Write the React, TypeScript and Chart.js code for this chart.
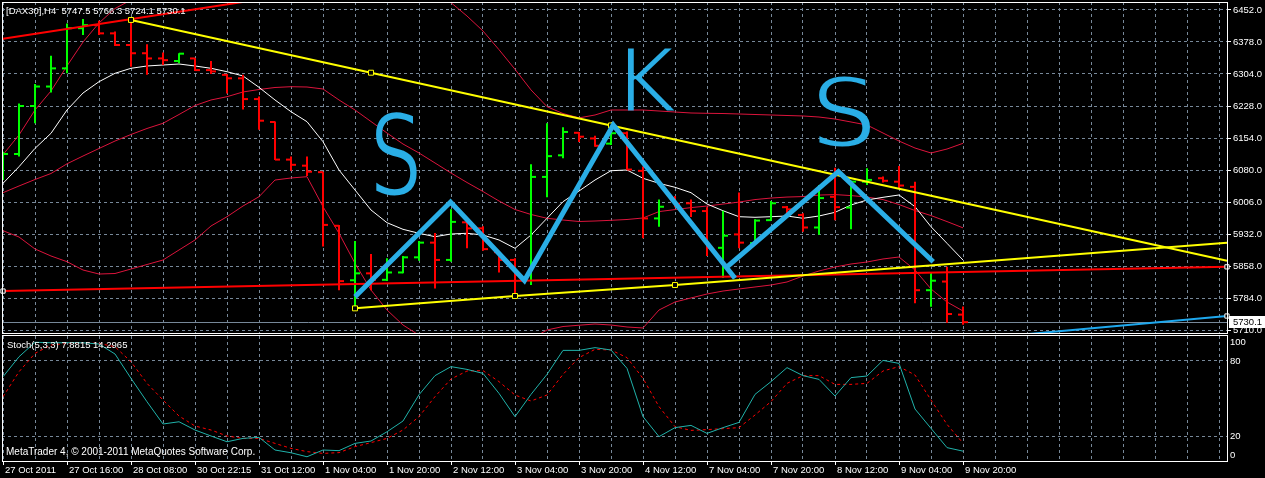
import React, { useEffect, useRef } from 'react';
import { Chart, registerables } from 'chart.js';

Chart.register(...registerables);

// ---------- data ----------
const timeLabels = ['27 Oct 2011', '27 Oct 16:00', '28 Oct 08:00', '30 Oct 22:15', '31 Oct 12:00', '1 Nov 04:00', '1 Nov 20:00', '2 Nov 12:00', '3 Nov 04:00', '3 Nov 20:00', '4 Nov 12:00', '7 Nov 04:00', '7 Nov 20:00', '8 Nov 12:00', '9 Nov 04:00', '9 Nov 20:00'];

const opens = [6082, 6119, 6230, 6275, 6317, 6410, 6417, 6398, 6371, 6352, 6340, 6334, 6340, 6313, 6302, 6294, 6246, 6193, 6106, 6092, 6077, 5953, 5827, 5843, 5828, 5845, 5880, 5914, 5874, 5961, 5947, 5892, 5874, 5840, 6066, 6116, 6168, 6155, 6143, 6167, 6080, 5970, 6012, 6005, 5987, 5902, 5933, 5913, 5966, 5996, 5978, 5949, 6020, 5995, 6055, 6063, 6055, 6043, 5804, 5824, 5747.5];
const highs = [6124, 6236, 6281, 6346, 6421, 6431, 6427, 6402, 6429, 6373, 6354, 6352, 6341, 6334, 6304, 6302, 6252, 6194, 6113, 6113, 6078, 5955, 5918, 5888, 5878, 5883, 5918, 5936, 5991, 5962, 5952, 5893, 5878, 6095, 6190, 6181, 6170, 6161, 6175, 6171, 6090, 6014, 6022, 6014, 5996, 5988, 6030, 5968, 6010, 5999, 5982, 6047, 6087, 6057, 6086, 6067, 6091, 6055, 5843, 5858, 5766.3];
const lows = [6059, 6113, 6190, 6261, 6306, 6394, 6394, 6369, 6321, 6302, 6325, 6329, 6311, 6304, 6259, 6222, 6175, 6105, 6080, 6068, 5905, 5804, 5761, 5804, 5825, 5843, 5872, 5808, 5870, 5901, 5895, 5845, 5791, 5816, 6019, 6109, 6147, 6136, 6140, 6082, 5924, 5951, 5996, 5973, 5883, 5832, 5901, 5911, 5965, 5982, 5939, 5932, 5966, 5945, 6047, 6053, 6040, 5774, 5766, 5729, 5724.1];
const closes = [6119, 6230, 6275, 6317, 6410, 6417, 6398, 6371, 6352, 6340, 6336, 6351, 6313, 6310, 6294, 6246, 6196, 6106, 6094, 6078, 5955, 5825, 5843, 5828, 5845, 5880, 5914, 5874, 5962, 5947, 5899, 5874, 5839, 6066, 6114, 6170, 6159, 6138, 6167, 6083, 5970, 5997, 6004, 5987, 5902, 5930, 5914, 5965, 6005, 5991, 5949, 6017, 5996, 6055, 6059, 6057, 6046, 5804, 5826, 5749, 5730.1];

const maLine = [6051.2, 6089.6, 6132, 6166.8, 6220.7, 6260, 6286.2, 6305.6, 6317.2, 6322.5, 6324.8, 6327.1, 6322.5, 6317.2, 6309.3, 6299.4, 6273.2, 6243.9, 6216.8, 6193.7, 6147.4, 6082, 6035.7, 5989.5, 5960.1, 5944.8, 5935.6, 5927.7, 5934, 5935.6, 5931.6, 5920.1, 5900.9, 5931.6, 5970.3, 6008.7, 6033.4, 6058.8, 6080.3, 6082, 6062.8, 6051.2, 6042, 6029.5, 6003.3, 5987.8, 5974, 5972.6, 5974, 5975.6, 5970.3, 5975.6, 5984.1, 6001, 6012.6, 6018.8, 6024.2, 5997.1, 5950.8, 5912.4, 5873.8];

const bbUpper = [6117.4, 6163, 6220.7, 6264.7, 6322.7, 6377.9, 6422, 6455.4, 6475.2, 6492.6, 6506.2, 6523.6, 6542.1, 6535.3, 6529, 6526.1, 6516, 6486.8, 6485.7, 6481.3, 6541.5, 6552.2, 6575.2, 6583.8, 6576.8, 6560.7, 6542.6, 6511.4, 6469, 6438.1, 6403.4, 6360.2, 6314.9, 6267.2, 6228.4, 6212.6, 6202.5, 6209.2, 6220.7, 6220.7, 6220.7, 6218.4, 6216.1, 6213.8, 6213.1, 6212.6, 6211.5, 6210.3, 6209.2, 6208, 6206.9, 6204.5, 6199.9, 6193, 6186, 6167.5, 6149, 6132.8, 6121.3, 6130.5, 6143.7];
const bbMiddle = [6029.5, 6045, 6060, 6073.9, 6096.3, 6114.3, 6131.7, 6149, 6164.1, 6178, 6190, 6210.3, 6231.1, 6243.9, 6251.5, 6262.4, 6268.1, 6272.8, 6274.6, 6273.9, 6269.3, 6243.9, 6220.7, 6194.1, 6167.5, 6142.1, 6121.3, 6098.2, 6075, 6053.1, 6032.2, 6010.3, 5990.6, 5979.1, 5970.3, 5966.3, 5962.9, 5964, 5965.6, 5967.5, 5971, 5985.8, 5990.4, 5995, 5998.6, 6003.2, 6007.8, 6013.6, 6017.1, 6019.4, 6020.5, 6024, 6025.1, 6022.8, 6019.4, 6013.6, 6002.1, 5988.2, 5976.6, 5962.7, 5948.2];
const bbLower = [5941.6, 5927, 5899.3, 5883.1, 5869.9, 5850.7, 5841.4, 5842.6, 5853, 5863.4, 5873.8, 5897, 5920.1, 5952.5, 5974, 5998.7, 6020.2, 6058.8, 6063.5, 6066.5, 5997.1, 5935.6, 5866.2, 5804.4, 5758.2, 5723.5, 5700, 5685, 5675, 5668, 5661, 5660, 5666, 5691, 5712, 5720, 5723, 5725.8, 5723.5, 5718.9, 5716.6, 5758.2, 5776.7, 5786, 5795.2, 5802.1, 5806.8, 5811.4, 5816, 5823, 5836.8, 5848.4, 5857.6, 5864.6, 5869.2, 5876.2, 5880.8, 5850.7, 5806.8, 5776.7, 5755.9];

const stochMain = [67.4, 83.4, 95, 94.6, 94.6, 94.6, 93.6, 85.6, 66.1, 47.4, 29.6, 31.4, 24.8, 20, 15.4, 18.1, 18.9, 8.8, 6.6, 3.4, 8.8, 8.3, 14.1, 16, 23.4, 32, 53, 68.3, 75.5, 73.3, 70.1, 54.1, 35.5, 53.3, 69.3, 88.5, 88.5, 90.7, 88.8, 74.1, 35.5, 19.5, 26.7, 28.5, 22.1, 26.7, 30.9, 53.3, 63.5, 74.7, 68.3, 65.3, 52, 66.7, 68, 80.5, 78.1, 41.6, 26.1, 10.7, 7.8815];
const stochSignal = [51.4, 71.4, 86.1, 92.8, 94.1, 94.6, 94.1, 91.4, 79.4, 62.1, 48.8, 36, 28, 24.8, 20, 18.1, 18.1, 14.1, 10.1, 7.5, 6.1, 6.7, 11.5, 14.7, 18.1, 24.8, 35.5, 51.5, 65.6, 72, 72.3, 63.5, 52.8, 48, 52.8, 69.3, 82.7, 89.3, 88.8, 82.7, 66.1, 43.5, 27.5, 24.5, 25.1, 25.9, 26.7, 36.8, 47.5, 62.1, 68.3, 68.3, 61.3, 61.3, 62.1, 72, 75.5, 68.8, 48.8, 29.3, 14.2965];

const priceTicks = [5710, 5784, 5858, 5932, 6006, 6080, 6154, 6228, 6304, 6378, 6452];
const stochTicks = [4.8, 20, 80, 95.2];
const stochTickLabels = ['0', '20', '80', '100'];

// drawn objects: [bar index, price]
const yellowUpper = [[8, 6429], [23, 6307], [38, 6185], [76.5, 5872]];
const yellowLower = [[22, 5762], [32, 5790.6], [42, 5816], [76.5, 5914]];
const redUpper = [[0, 6385.6], [20, 6499]];
const redLower = [[0, 5802], [76.5, 5858]];
const blueChannel = [[63, 5699], [76.5, 5744.3]];
const zigzag = [[22, 5789], [27.97, 6008], [32.59, 5826.4], [38.14, 6186], [45.75, 5831.5], [45.5, null], [45.27, 5858.3], [52.21, 6078], [58.14, 5869.9]];
const noteLetters = ['S', 'K', 'S'];
const noteAt = [[24.56, 6121], [40.25, 6292], [52.56, 6216]];

// ---------- style ----------
const FONT = '"Liberation Sans", Arial, sans-serif';
const FS = 9.5;
const GRID = '#778899';
const UP = '#00FF00';
const DOWN = '#FF0000';
const BAND = '#DC143C';
const INK = '#2AAEE6';
const X_MIN = -0.0625;
const X_MAX = 76.5625;
const TICK_OFF = 2.5 / 16;

const pts = (arr: (number | null)[][]) => arr.map(([x, y]) => ({ x: x as number, y: y as any }));
const series = (arr: number[]) => arr.map((v, i) => ({ x: i, y: v }));
const barColors = opens.map((o, i) => (closes[i] >= o ? UP : DOWN));

function xScale(showLabels: boolean): any {
  const labelled = (v: number) => v % 4 === 0 && v / 4 < timeLabels.length;
  return {
    type: 'linear',
    min: X_MIN,
    max: X_MAX,
    offset: false,
    afterBuildTicks: (s: any) => {
      const t: any[] = [];
      for (let v = 0; v <= 76; v += 2) t.push({ value: v });
      s.ticks = t;
    },
    afterFit: (s: any) => {
      s.height = showLabels ? 17 : 0;
      s.paddingLeft = 0;
      s.paddingRight = 0;
    },
    grid: {
      color: GRID,
      lineWidth: 1,
      offset: false,
      drawTicks: showLabels,
      tickLength: 4,
      tickWidth: 1,
      tickColor: (c: any) => (c.tick && labelled(c.tick.value) ? '#ffffff' : 'rgba(0,0,0,0)'),
    },
    border: { display: false, dash: [3, 3] },
    ticks: {
      display: showLabels,
      autoSkip: false,
      maxRotation: 0,
      minRotation: 0,
      align: 'start',
      labelOffset: 2,
      padding: 0,
      color: '#ffffff',
      font: { family: FONT, size: FS },
      callback: (v: number) => (labelled(v) ? timeLabels[v / 4] : ''),
    },
  };
}

const mainDecor = {
  id: 'mainDecor',
  beforeDatasetsDraw(chart: any) {
    const { ctx, chartArea: a, scales } = chart;
    const yb = Math.round(scales.y.getPixelForValue(closes[closes.length - 1])) + 0.5;
    ctx.save();
    ctx.strokeStyle = GRID;
    ctx.lineWidth = 1;
    ctx.beginPath();
    ctx.moveTo(a.left, yb);
    ctx.lineTo(a.right, yb);
    ctx.stroke();
    ctx.restore();
  },
  afterDatasetsDraw(chart: any) {
    const { ctx, scales, width, height } = chart;
    const look = [{ size: 114, sx: 0.73 }, { size: 89, sx: 1.0 }, { size: 96, sx: 1.1 }];
    // hand-written letters: glyphs drawn off-screen, thinned, then copied on
    const off = document.createElement('canvas');
    off.width = width;
    off.height = height;
    const o = off.getContext('2d') as CanvasRenderingContext2D;
    noteLetters.forEach((t, i) => {
      const px = scales.x.getPixelForValue(noteAt[i][0]);
      const py = scales.y.getPixelForValue(noteAt[i][1]);
      o.save();
      o.translate(px, py);
      o.scale(look[i].sx, 1);
      o.font = `${look[i].size}px "DejaVu Sans"`;
      o.textAlign = 'center';
      o.textBaseline = 'alphabetic';
      o.fillStyle = INK;
      o.fillText(t, 0, look[i].size * 0.365);
      o.globalCompositeOperation = 'destination-out';
      o.lineWidth = 3;
      o.lineJoin = 'round';
      o.strokeStyle = '#000';
      o.strokeText(t, 0, look[i].size * 0.365);
      o.restore();
    });
    ctx.drawImage(off, 0, 0);
  },
  afterDraw(chart: any) {
    const { ctx, chartArea: a, scales } = chart;
    const n = closes.length - 1;
    ctx.save();
    ctx.strokeStyle = '#ffffff';
    ctx.lineWidth = 1;
    ctx.strokeRect(a.left + 0.5, a.top + 0.5, a.right - a.left - 1, a.bottom - a.top - 1);
    ctx.font = `${FS}px ${FONT}`;
    ctx.textAlign = 'left';
    ctx.textBaseline = 'middle';
    ctx.fillStyle = '#ffffff';
    ctx.fillText(`[DAX30],H4  ${opens[n].toFixed(1)} ${highs[n].toFixed(1)} ${lows[n].toFixed(1)} ${closes[n].toFixed(1)}`, 6, 11);
    const yb = scales.y.getPixelForValue(closes[n]);
    ctx.fillRect(a.right + 1, Math.round(yb) - 6, 36, 12);
    ctx.fillStyle = '#000000';
    ctx.fillText(closes[n].toFixed(1), a.right + 5, yb);
    ctx.restore();
  },
};

const stochDecor = {
  id: 'stochDecor',
  afterDraw(chart: any) {
    const { ctx, chartArea: a } = chart;
    const n = stochMain.length - 1;
    ctx.save();
    ctx.strokeStyle = '#ffffff';
    ctx.lineWidth = 1;
    ctx.strokeRect(a.left + 0.5, a.top - 0.5, a.right - a.left - 1, a.bottom - a.top + 1);
    ctx.font = `${FS}px ${FONT}`;
    ctx.textAlign = 'left';
    ctx.textBaseline = 'middle';
    ctx.fillStyle = '#ffffff';
    ctx.fillText(`Stoch(5,3,3) ${stochMain[n].toFixed(4)} ${stochSignal[n].toFixed(4)}`, 7, 11.7);
    ctx.font = `10px ${FONT}`;
    ctx.fillText('MetaTrader 4, \u00A9 2001-2011 MetaQuotes Software Corp.', 6, 118.7);
    ctx.restore();
  },
};

const lineDs = (data: any[], color: string, width: number, order: number, extra: any = {}) => ({
  type: 'line',
  data,
  borderColor: color,
  borderWidth: width,
  pointRadius: 0,
  pointHoverRadius: 0,
  tension: 0,
  fill: false,
  spanGaps: false,
  order,
  ...extra,
});

export default function App() {
  const aRef = useRef<HTMLCanvasElement>(null);
  const bRef = useRef<HTMLCanvasElement>(null);

  useEffect(() => {
    const font = { family: FONT, size: FS };
    const anchor = (col: string, radii: number[]) => ({
      pointRadius: radii,
      pointHoverRadius: radii,
      pointStyle: 'rect',
      pointBackgroundColor: '#000000',
      pointBorderColor: col,
      pointBorderWidth: 1,
    });

    const mainChart = new Chart(aRef.current as HTMLCanvasElement, {
      type: 'line',
      data: {
        datasets: [
          lineDs(pts(zigzag), INK, 5, 0, { borderCapStyle: 'butt', borderJoinStyle: 'miter' }),
          lineDs(pts(yellowUpper), '#FFFF00', 2, 1, anchor('#FFFF00', [3.5, 3.5, 3.5, 0])),
          lineDs(pts(yellowLower), '#FFFF00', 2, 1, anchor('#FFFF00', [3.5, 3.5, 3.5, 0])),
          lineDs(pts(redUpper), '#FF0000', 2, 2),
          lineDs(pts(redLower), '#FF0000', 2, 2, { ...anchor('#ffffff', [3, 3]), clip: { left: 4, top: 0, right: 4, bottom: 0 } }),
          lineDs(pts(blueChannel), '#1EA8EE', 2, 2, { ...anchor('#ffffff', [0, 3]), clip: { left: 0, top: 0, right: 4, bottom: 0 } }),
          {
            type: 'bar',
            data: highs.map((h, i) => ({ x: i, y: [lows[i], h] })),
            backgroundColor: barColors,
            borderWidth: 0,
            barThickness: 2,
            inflateAmount: 0,
            grouped: false,
            order: 3,
          } as any,
          {
            type: 'scatter',
            data: opens.map((o, i) => ({ x: i - TICK_OFF, y: o })),
            pointStyle: 'line',
            pointRadius: 2.5,
            pointHoverRadius: 2.5,
            pointBorderWidth: 2,
            pointBorderColor: barColors,
            showLine: false,
            order: 3,
          } as any,
          {
            type: 'scatter',
            data: closes.map((c, i) => ({ x: i + TICK_OFF, y: c })),
            pointStyle: 'line',
            pointRadius: 2.5,
            pointHoverRadius: 2.5,
            pointBorderWidth: 2,
            pointBorderColor: barColors,
            showLine: false,
            order: 3,
          } as any,
          lineDs(series(maLine), '#ffffff', 1, 4),
          lineDs(series(bbUpper), BAND, 1, 5),
          lineDs(series(bbMiddle), BAND, 1, 5),
          lineDs(series(bbLower), BAND, 1, 5),
        ] as any,
      },
      options: {
        responsive: false,
        animation: false,
        devicePixelRatio: 1,
        events: [],
        layout: { padding: { left: 2, top: 2, right: 0, bottom: 2 }, autoPadding: false },
        plugins: { legend: { display: false }, tooltip: { enabled: false } },
        scales: {
          x: xScale(false),
          y: {
            type: 'linear',
            position: 'right',
            min: 5702.7,
            max: 6470.5,
            afterBuildTicks: (s: any) => {
              s.ticks = priceTicks.map((v) => ({ value: v }));
            },
            afterFit: (s: any) => {
              s.width = 37;
              s.paddingTop = 0;
              s.paddingBottom = 0;
            },
            grid: { color: GRID, lineWidth: 1, drawTicks: true, tickLength: 3, tickWidth: 1, tickColor: '#ffffff' },
            border: { display: false, dash: [3, 3] },
            ticks: { color: '#ffffff', padding: 2, font, callback: (v: number) => Number(v).toFixed(1) },
          },
        } as any,
      },
      plugins: [mainDecor],
    } as any);

    const stochChart = new Chart(bRef.current as HTMLCanvasElement, {
      type: 'line',
      data: {
        datasets: [
          lineDs(series(stochMain), '#20B2AA', 1, 0),
          lineDs(series(stochSignal), '#FF0000', 1, 1, { borderDash: [3, 3] }),
        ] as any,
      },
      options: {
        responsive: false,
        animation: false,
        devicePixelRatio: 1,
        events: [],
        layout: { padding: { left: 2, top: 2, right: 0, bottom: 0 }, autoPadding: false },
        plugins: { legend: { display: false }, tooltip: { enabled: false } },
        scales: {
          x: xScale(true),
          y: {
            type: 'linear',
            position: 'right',
            min: 0,
            max: 100,
            afterBuildTicks: (s: any) => {
              s.ticks = stochTicks.map((v) => ({ value: v }));
            },
            afterFit: (s: any) => {
              s.width = 37;
              s.paddingTop = 0;
              s.paddingBottom = 0;
            },
            grid: {
              color: (c: any) => (c.tick && (c.tick.value === 20 || c.tick.value === 80) ? GRID : 'rgba(0,0,0,0)'),
              lineWidth: 1,
              drawTicks: false,
            },
            border: { display: false, dash: [3, 3] },
            ticks: { color: '#ffffff', padding: 2, font, callback: (_v: number, i: number) => stochTickLabels[i] },
          },
        } as any,
      },
      plugins: [stochDecor],
    } as any);

    return () => {
      mainChart.destroy();
      stochChart.destroy();
    };
  }, []);

  return (
    <div style={{ position: 'fixed', left: 0, top: 0, width: 1265, height: 478, background: '#000000', overflow: 'hidden' }}>
      <canvas ref={aRef} width={1265} height={336} style={{ position: 'absolute', left: 0, top: 0 }} />
      <canvas ref={bRef} width={1265} height={144} style={{ position: 'absolute', left: 0, top: 334 }} />
    </div>
  );
}
